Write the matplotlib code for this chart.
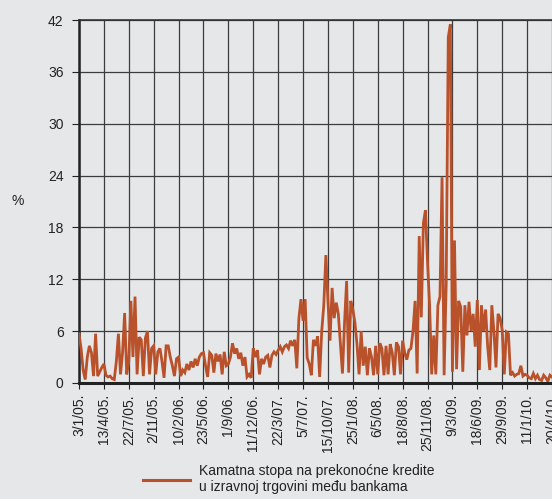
import matplotlib
matplotlib.use("Agg")
import matplotlib.pyplot as plt
import numpy as np

plt.rcParams['font.family'] = ['Liberation Sans', 'DejaVu Sans']

# Tick labels (dates), one every 12 observations
tick_labels = ["3/1/05.", "13/4/05.", "22/7/05.", "2/11/05.", "10/2/06.", "23/5/06.",
               "1/9/06.", "11/12/06.", "22/3/07.", "5/7/07.", "15/10/07.", "25/1/08.",
               "6/5/08.", "18/8/08.", "25/11/08.", "9/3/09.", "18/6/09.", "29/9/09.",
               "11/1/10.", "20/4/10."]

# Overnight interbank rate (%), 12 readings per tick interval
rate_2005 = [5.7, 4.0, 1.5, 0.4, 3.0, 4.3, 3.5, 0.8, 5.7, 0.8, 1.3, 1.8,
             2.2, 0.9, 0.7, 0.8, 0.5, 0.4, 2.5, 5.7, 1.0, 3.5, 8.1, 1.0,
             2.5, 9.5, 3.0, 10.0, 1.0, 5.3, 5.0, 0.8, 5.2, 6.0, 1.0, 4.0,
             4.3, 1.0, 3.6, 4.0, 2.5, 0.6, 4.3, 4.3, 3.0, 2.0, 0.8, 2.8]
rate_2006 = [3.0, 0.8, 1.5, 1.2, 2.2, 1.5, 2.5, 1.8, 2.8, 2.0, 3.0, 3.4,
             3.5, 2.0, 0.7, 3.5, 3.2, 1.2, 3.4, 2.5, 3.3, 1.0, 3.6, 2.0,
             2.2, 3.0, 4.6, 3.4, 4.0, 2.8, 3.5, 2.0, 3.0, 0.7, 1.0, 0.6]
rate_2007 = [4.0, 3.0, 3.8, 1.0, 2.8, 2.2, 3.0, 3.2, 1.8, 3.2, 3.6, 3.3,
             3.8, 4.2, 3.6, 4.2, 4.4, 4.0, 4.9, 4.3, 5.0, 1.7, 7.5, 9.7,
             7.2, 9.7, 2.9, 2.2, 0.9, 5.0, 4.3, 5.4, 0.7, 6.0, 9.0, 14.8,
             9.5, 4.9, 11.0, 7.5, 9.3, 8.0, 4.5, 1.1, 7.0, 11.8, 1.2, 9.5]
rate_2008 = [8.5, 7.0, 4.5, 1.0, 6.0, 2.0, 4.2, 0.9, 4.0, 3.0, 0.9, 4.3,
             1.0, 4.6, 4.0, 0.9, 4.3, 1.0, 4.5, 3.5, 0.9, 4.7, 4.2, 1.0,
             4.9, 3.5, 2.7, 3.8, 4.0, 6.0, 9.5, 1.1, 17.0, 7.6, 18.5, 20.0,
             14.0, 9.0, 1.0, 5.5, 1.0, 9.0, 10.0, 23.8, 0.9, 11.5, 40.0, 41.5]
rate_2009 = [1.3, 16.5, 1.6, 9.5, 8.8, 1.3, 9.0, 5.5, 9.4, 6.0, 8.0, 4.2,
             9.6, 1.5, 9.0, 6.0, 8.5, 4.2, 1.5, 9.0, 6.0, 1.8, 8.0, 7.5,
             6.1, 1.0, 5.9, 5.7, 0.9, 1.2, 0.8, 1.0, 1.1, 2.0, 0.8, 1.0]
rate_2010 = [0.9, 0.6, 0.5, 1.1, 0.5, 0.9, 0.4, 0.3, 0.9, 0.6, 0.2, 0.9, 0.7]

rate = rate_2005 + rate_2006 + rate_2007 + rate_2008 + rate_2009 + rate_2010
series_label = "Kamatna stopa na prekonoćne kredite\nu izravnoj trgovini među bankama"

bg = '#e6e7e9'
red = '#b9512a'
W, H = 552, 499
fig = plt.figure(figsize=(W / 100, H / 100), dpi=100, facecolor=bg)
ax = fig.add_axes([79 / W, 1 - 383 / H, (552 - 79) / W, (383 - 20) / H])
ax.set_facecolor(bg)

x = np.arange(len(rate))
line, = ax.plot(x, rate, color=red, lw=2.0, solid_joinstyle='miter', zorder=3)

ticks = np.arange(0, 12 * len(tick_labels), 12)
ax.set_xticks(ticks)
ax.set_xticklabels(tick_labels, rotation=90, fontsize=10, color='#222222')
ax.set_xlim(0, 228)
ax.set_ylim(0, 42)
ax.set_yticks(np.arange(0, 43, 6))
ax.tick_params(axis='y', labelsize=10, length=5, width=0.8, pad=6, colors='#222222')
ax.tick_params(axis='x', length=4, width=0.8, pad=4, colors='#222222')
ax.grid(True, color='#3c3c3c', lw=0.9)
ax.set_axisbelow(True)

ax.spines['right'].set_visible(False)
ax.spines['top'].set_color('#333333')
ax.spines['top'].set_linewidth(1.2)
ax.spines['left'].set_color('#222222')
ax.spines['left'].set_linewidth(1.8)
ax.spines['bottom'].set_color('#222222')
ax.spines['bottom'].set_linewidth(2.2)
ax.spines['bottom'].set_zorder(4)

fig.text(18 / W, 1 - 201 / H, '%', fontsize=10, color='#222222', ha='center', va='center')

leg = fig.legend([line], [series_label], loc='center left',
                 bbox_to_anchor=(143 / W, 1 - 479 / H), frameon=False,
                 fontsize=10, handlelength=3.4, handletextpad=0.65,
                 borderpad=0, borderaxespad=0)
leg.get_lines()[0].set_linewidth(2.2)
for t in leg.get_texts():
    t.set_color('#222222')

fig.savefig('out.png', dpi=100, facecolor=bg)
